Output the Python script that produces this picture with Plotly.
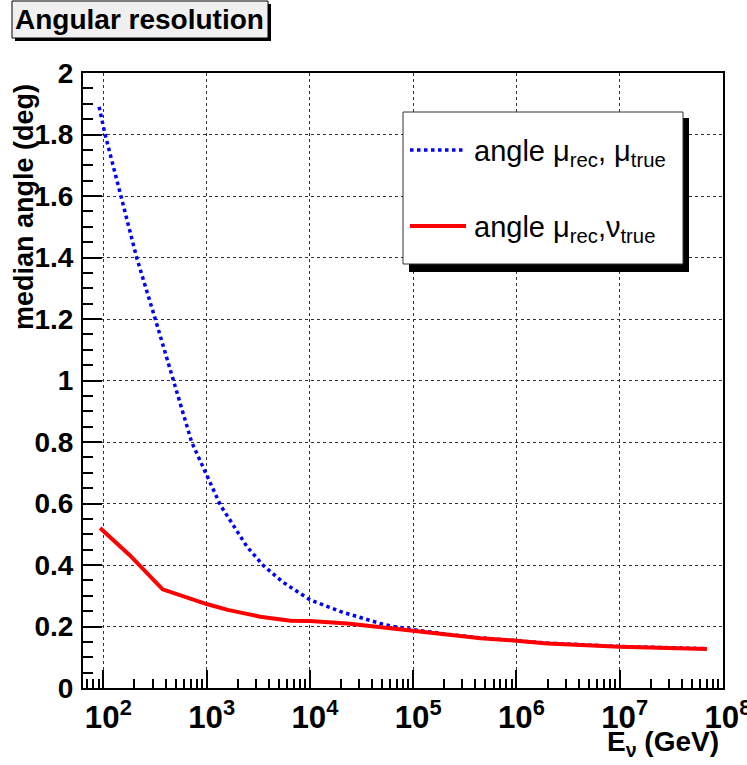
import plotly.graph_objects as go

# ---- data ----
blue_E = [91, 104, 148, 210, 318, 476, 716, 1358, 2455, 3548, 5495, 10000,
          20900, 47900, 64600, 100000, 200000, 450000, 1000000, 2000000,
          10000000, 70000000]
blue_y = [1.89, 1.80, 1.60, 1.40, 1.20, 1.00, 0.80, 0.595, 0.46, 0.398, 0.344,
          0.287, 0.246, 0.21, 0.20, 0.19, 0.176, 0.163, 0.155, 0.146,
          0.135, 0.128]

red_E = [93, 180, 375, 1000, 1600, 3300, 6500, 10000, 23000, 48000, 100000,
         200000, 450000, 1000000, 2000000, 10000000, 70000000]
red_y = [0.52, 0.432, 0.321, 0.273, 0.254, 0.232, 0.219, 0.218, 0.21, 0.198,
         0.189, 0.175, 0.162, 0.154, 0.145, 0.134, 0.127]

y_ticks = [0, 0.2, 0.4, 0.6, 0.8, 1.0, 1.2, 1.4, 1.6, 1.8, 2.0]
y_tick_labels = ["0", "0.2", "0.4", "0.6", "0.8", "1", "1.2", "1.4", "1.6", "1.8", "2"]

title_text = "Angular resolution"
x_title = "E<sub>ν</sub> (GeV)"
y_title = "median angle (deg)"
legend_labels = ["angle μ<sub>rec</sub>, μ<sub>true</sub>",
                 "angle μ<sub>rec</sub>,ν<sub>true</sub>"]

# ---- layout geometry (page pixels) ----
W, H = 747, 765
L, R, T, B = 83, 723, 73, 688


def px(x):
    return (x - L) / (R - L)


def py(y):
    return (B - y) / (B - T)


FONT = "Liberation Sans, Arial, Helvetica, sans-serif"

fig = go.Figure()
fig.add_trace(go.Scatter(x=blue_E, y=blue_y, mode="lines",
                         line=dict(color="#0000ff", width=3.5, dash="dot"),
                         showlegend=False))
fig.add_trace(go.Scatter(x=red_E, y=red_y, mode="lines",
                         line=dict(color="#ff0000", width=4),
                         showlegend=False))

fig.update_layout(
    width=W, height=H,
    margin=dict(l=L, r=W - R, t=T, b=H - B, autoexpand=False),
    paper_bgcolor="white", plot_bgcolor="white",
    font=dict(family=FONT, color="black"),
    showlegend=False,
)

fig.update_xaxes(
    type="log", range=[1.803, 8.0005], dtick=1,
    exponentformat="power", showexponent="all",
    ticks="inside", ticklen=18, tickwidth=1.5, tickcolor="black",
    showline=True, linecolor="black", linewidth=2, mirror=True,
    showgrid=True, gridcolor="#333", griddash="dot", gridwidth=1,
    tickfont=dict(size=25, family=FONT, weight="bold", color="black"),
    ticklabelstandoff=2, ticklabelshift=5, ticklabeloverflow="allow",
    minor=dict(ticks="inside", ticklen=9, tickwidth=1.5, tickcolor="black",
               dtick="D1", showgrid=False),
    zeroline=False,
)
fig.update_yaxes(
    range=[0, 2], tickvals=y_ticks, ticktext=y_tick_labels,
    ticks="inside", ticklen=19, tickwidth=1.5, tickcolor="black",
    showline=True, linecolor="black", linewidth=2, mirror=True,
    showgrid=True, gridcolor="#333", griddash="dot", gridwidth=1,
    tickfont=dict(size=28, family=FONT, weight="bold", color="black"),
    ticklabelstandoff=2,
    minor=dict(ticks="inside", ticklen=10, tickwidth=1.5, tickcolor="black",
               dtick=0.05, showgrid=False),
    zeroline=False,
)

shapes = []
# title box with shadow
shapes.append(dict(type="rect", xref="paper", yref="paper",
                   x0=px(15), x1=px(271), y0=py(41), y1=py(4),
                   fillcolor="black", line=dict(width=0), layer="above"))
shapes.append(dict(type="rect", xref="paper", yref="paper",
                   x0=px(12), x1=px(268), y0=py(38), y1=py(1),
                   fillcolor="#f0f0f0", line=dict(color="black", width=1),
                   layer="above"))
# legend box with shadow
shapes.append(dict(type="rect", xref="paper", yref="paper",
                   x0=px(409), x1=px(689), y0=py(272), y1=py(118),
                   fillcolor="black", line=dict(width=0), layer="above"))
shapes.append(dict(type="rect", xref="paper", yref="paper",
                   x0=px(403), x1=px(683), y0=py(264), y1=py(112),
                   fillcolor="white", line=dict(color="#333", width=1),
                   layer="above"))
# legend sample lines
shapes.append(dict(type="line", xref="paper", yref="paper",
                   x0=px(410), x1=px(466), y0=py(150), y1=py(150),
                   line=dict(color="#0000ff", width=3.5, dash="dot"),
                   layer="above"))
shapes.append(dict(type="line", xref="paper", yref="paper",
                   x0=px(410), x1=px(466), y0=py(226), y1=py(226),
                   line=dict(color="#ff0000", width=4), layer="above"))
fig.update_layout(shapes=shapes)

annotations = [
    dict(text=title_text, xref="paper", yref="paper",
         x=px(139), y=py(19.5), xanchor="center", yanchor="middle",
         showarrow=False,
         font=dict(size=28, family=FONT, weight="bold", color="black")),
    dict(text=legend_labels[0], xref="paper", yref="paper",
         x=px(472), y=py(153), xanchor="left", yanchor="middle",
         showarrow=False, font=dict(size=29, family=FONT, color="black")),
    dict(text=legend_labels[1], xref="paper", yref="paper",
         x=px(472), y=py(229), xanchor="left", yanchor="middle",
         showarrow=False, font=dict(size=29, family=FONT, color="black")),
    dict(text=x_title, xref="paper", yref="paper",
         x=px(721), y=py(743), xanchor="right", yanchor="middle",
         showarrow=False,
         font=dict(size=28, family=FONT, weight="bold", color="black")),
    dict(text=y_title, xref="paper", yref="paper",
         x=px(24), y=py(207), xanchor="center", yanchor="middle",
         textangle=-90, showarrow=False,
         font=dict(size=27, family=FONT, weight="bold", color="black")),
]
fig.update_layout(annotations=annotations)

# remove the page's default 8px body margin so the figure fills the window
fig.write_html("out.html",
               config={"displayModeBar": False},
               post_script="document.body.style.margin='0';"
                           "document.body.style.overflow='hidden';")
